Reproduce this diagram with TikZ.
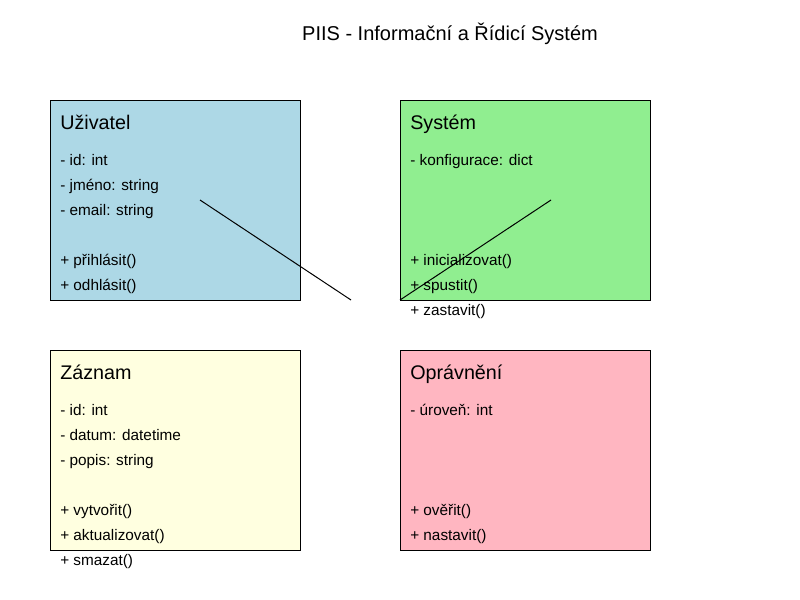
\documentclass[tikz,border=0pt]{standalone}
\usepackage{fontspec}
\setmainfont{Liberation Sans}
\definecolor{lblue}{HTML}{ADD8E6}
\definecolor{lgreen}{HTML}{90EE90}
\definecolor{lyellow}{HTML}{FFFFE0}
\definecolor{lpink}{HTML}{FFB6C1}
\begin{document}
\begin{tikzpicture}[x=0.75pt,y=-0.75pt,
  classbox/.style={draw=black,line width=0.75pt,minimum width=187.5pt,minimum height=150pt,inner sep=0pt,anchor=north west},
  hdr/.style={anchor=base west,inner sep=0pt,font=\fontsize{14.8pt}{17pt}\selectfont},
  attr/.style={anchor=base west,inner sep=0pt,font=\fontsize{11.5pt}{13.5pt}\selectfont},
  ttl/.style={anchor=base,inner sep=0pt,font=\fontsize{15pt}{17pt}\selectfont},
  link/.style={draw=black,line width=0.75pt}]
\useasboundingbox (0,0) rectangle (800,600);
\fill[white] (0,0) rectangle (800,600);
\node[ttl] (title) at (450,40) {PIIS - Informační a Řídicí Systém};
% boxes
\node[classbox,fill=lblue] (uziv) at (50,100) {};
\node[classbox,fill=lgreen] (sys) at (400,100) {};
\node[classbox,fill=lyellow] (zazn) at (50,350) {};
\node[classbox,fill=lpink] (opr) at (400,350) {};
% Uzivatel
\node[hdr] (uh) at (60,129) {Uživatel};
\node[attr] (u1) at (60,165) {- id: int};
\node[attr] (u2) at (60,190) {- jméno: string};
\node[attr] (u3) at (60,215) {- email: string};
\node[attr] (u4) at (60,265) {+ přihlásit()};
\node[attr] (u5) at (60,290) {+ odhlásit()};
% System
\node[hdr] (sh) at (410,129) {Systém};
\node[attr] (s1) at (410,165) {- konfigurace: dict};
\node[attr] (s2) at (410,265) {+ inicializovat()};
\node[attr] (s3) at (410,290) {+ spustit()};
\node[attr] (s4) at (410,315) {+ zastavit()};
% Zaznam
\node[hdr] (zh) at (60,379) {Záznam};
\node[attr] (z1) at (60,415) {- id: int};
\node[attr] (z2) at (60,440) {- datum: datetime};
\node[attr] (z3) at (60,465) {- popis: string};
\node[attr] (z4) at (60,515) {+ vytvořit()};
\node[attr] (z5) at (60,540) {+ aktualizovat()};
\node[attr] (z6) at (60,565) {+ smazat()};
% Opravneni
\node[hdr] (oh) at (410,379) {Oprávnění};
\node[attr] (o1) at (410,415) {- úroveň: int};
\node[attr] (o2) at (410,515) {+ ověřit()};
\node[attr] (o3) at (410,540) {+ nastavit()};
% connectors
\coordinate (a1) at (200,200);
\coordinate (a2) at (351,300);
\coordinate (b1) at (551,200);
\coordinate (b2) at (400,300);
\draw[link] (a1) -- (a2);
\draw[link] (b1) -- (b2);
\end{tikzpicture}
\end{document}
